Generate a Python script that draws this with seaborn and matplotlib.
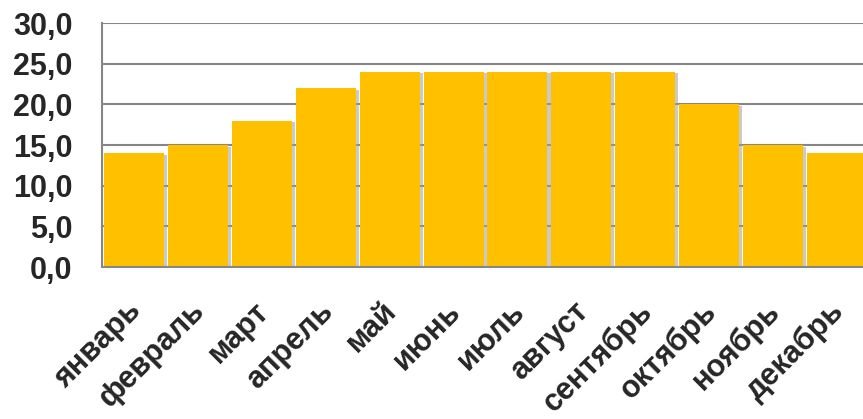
import matplotlib
matplotlib.use("Agg")
import matplotlib.pyplot as plt
import matplotlib.patheffects as pe
import matplotlib.transforms as mtransforms
import numpy as np
import pandas as pd
import seaborn as sns

months = ["январь", "февраль", "март", "апрель", "май", "июнь",
          "июль", "август", "сентябрь", "октябрь", "ноябрь", "декабрь"]
values = [14, 15, 18, 22, 24, 24, 24, 24, 24, 20, 15, 14]
y_ticks = [0, 5, 10, 15, 20, 25, 30]

sns.set_style("white")
plt.rcParams["font.family"] = ["Liberation Sans", "DejaVu Sans"]
plt.rcParams["font.weight"] = "bold"

grid_col = "#868686"
bar_col = "#FFC000"

fig = plt.figure(figsize=(8.63, 4.19), dpi=100)
ax = fig.add_axes([102 / 863, (419 - 267) / 419, (869 - 102) / 863, 244 / 419])

df = pd.DataFrame({"month": months, "value": values})
sns.barplot(data=df, x="month", y="value", color=bar_col, saturation=1,
            width=0.94, ax=ax, zorder=3)

for bar in ax.patches:
    bar.set_linewidth(0)
    bar.set_path_effects([
        pe.SimplePatchShadow(offset=(2.2, -1.2), shadow_rgbFace="#a0a0a0", alpha=0.55),
        pe.Normal(),
    ])

ax.set_xlim(-0.5, len(months) - 0.5)
ax.set_ylim(0, 30)
ax.set_yticks(y_ticks)
ax.set_yticklabels([f"{v:.1f}".replace(".", ",") for v in y_ticks])
ax.yaxis.grid(True, color=grid_col, linewidth=1.5, zorder=0)
ax.set_axisbelow(True)

ax.set_xticks(np.arange(len(months)))
ax.set_xticks(np.arange(-0.5, len(months)), minor=True)
ax.tick_params(axis="x", which="major", length=0, pad=21)
ax.tick_params(axis="x", which="minor", length=7.2, width=1.1,
               color=grid_col, direction="out")
ax.tick_params(axis="y", length=7.2, width=1.1, color=grid_col,
               direction="out", pad=14, labelsize=22)

# nudge the rotated month names so their ends sit under each bar
offset = mtransforms.ScaledTranslation(-8 / 100, 0, fig.dpi_scale_trans)
ax.set_xticklabels(months, rotation=45, ha="right", va="top",
                   rotation_mode="anchor", fontsize=22, fontweight="bold")
for lbl in ax.get_xticklabels():
    lbl.set_transform(lbl.get_transform() + offset)
for lbl in ax.get_yticklabels():
    lbl.set_fontweight("bold")

for side in ("top", "right"):
    ax.spines[side].set_visible(False)
for side in ("left", "bottom"):
    ax.spines[side].set_color(grid_col)
    ax.spines[side].set_linewidth(1.5)
    ax.spines[side].set_zorder(4)

ax.set_xlabel("")
ax.set_ylabel("")

fig.savefig("out.png", dpi=100)
